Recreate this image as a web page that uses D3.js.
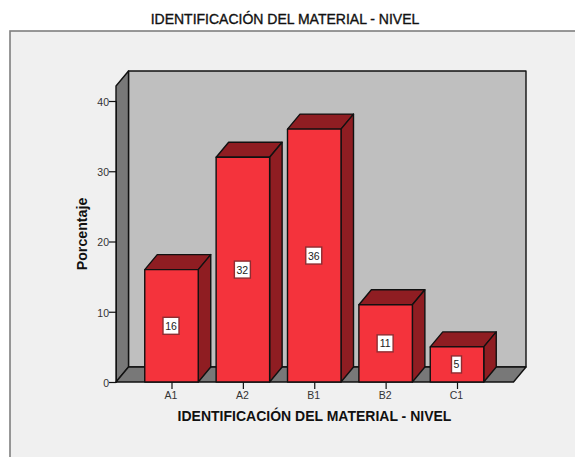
<!DOCTYPE html>
<html><head><meta charset="utf-8">
<script src="https://cdn.jsdelivr.net/npm/d3@7"></script>
<style>
html,body{margin:0;padding:0;background:#fff;overflow:hidden}
svg{display:block}
text{font-family:"Liberation Sans",Arial,sans-serif}
</style></head><body>
<svg id="c" width="575" height="457"></svg>
<script>
const categories=["A1","A2","B1","B2","C1"];
const values=[16,32,36,11,5];
const yTicks=[0,10,20,30,40];
const titleText="IDENTIFICACIÓN DEL MATERIAL - NIVEL";
const xLabel="IDENTIFICACIÓN DEL MATERIAL - NIVEL";
const yLabel="Porcentaje";

const svg=d3.select("#c");
const W=575,H=457;
const dx=12.5,dy=15;
const x=d3.scalePoint().domain(categories).range([171.5,457]);
const y=d3.scaleLinear().domain([0,40]).range([382,101]);
const plotLeft=116,plotRight=513.5,plotBottom=y(0),plotTop=86;
const barW=53.5;
const dark="#111";

svg.append("rect").attr("x",10).attr("y",31).attr("width",W+10).attr("height",H).attr("fill","#f0f0f0").attr("stroke","#7f7f7f").attr("stroke-width",1.6);
svg.append("text").attr("x",285).attr("y",24).attr("text-anchor","middle").attr("font-size",14).attr("fill","#111").attr("stroke","#111").attr("stroke-width",0.35).text(titleText);

const pg=(pts,fill,sw=1.4)=>svg.append("polygon").attr("points",pts.map(p=>p.join(",")).join(" ")).attr("fill",fill).attr("stroke",dark).attr("stroke-width",sw).attr("stroke-linejoin","round");
// back wall, side wall, floor
pg([[plotLeft+dx,plotTop-dy],[plotRight+dx,plotTop-dy],[plotRight+dx,plotBottom-dy],[plotLeft+dx,plotBottom-dy]],"#bfbfbf");
pg([[plotLeft,plotTop],[plotLeft+dx,plotTop-dy],[plotLeft+dx,plotBottom-dy],[plotLeft,plotBottom]],"#787878");
pg([[plotLeft,plotBottom],[plotLeft+dx,plotBottom-dy],[plotRight+dx,plotBottom-dy],[plotRight,plotBottom]],"#787878");

// axes
const ya=svg.append("g").attr("transform",`translate(${plotLeft},0)`).call(d3.axisLeft(y).tickValues(yTicks).tickSize(7).tickPadding(0).tickFormat(d3.format("d")));
ya.select(".domain").attr("stroke",dark);
ya.selectAll("line").attr("stroke",dark).attr("stroke-width",1.2);
ya.selectAll("text").attr("font-size",10.5).attr("fill","#333").attr("font-family","Liberation Sans").attr("dy","0.42em");
const xa=svg.append("g").attr("transform",`translate(0,${plotBottom})`).call(d3.axisBottom(x).tickSize(7).tickPadding(3));
xa.select(".domain").remove();
xa.selectAll("line").attr("stroke",dark).attr("stroke-width",1.2);
xa.selectAll("text").attr("font-size",10.5).attr("fill","#333").attr("font-family","Liberation Sans").attr("dx",-1);

// bars
categories.forEach((c,i)=>{
  const x0=x(c)-barW/2,x1=x(c)+barW/2,yt=y(values[i]);
  pg([[x0,yt],[x0+dx,yt-dy],[x1+dx,yt-dy],[x1,yt]],"#8f1d22");
  pg([[x1,yt],[x1+dx,yt-dy],[x1+dx,plotBottom-dy],[x1,plotBottom]],"#8f1d22");
  pg([[x0,yt],[x1,yt],[x1,plotBottom],[x0,plotBottom]],"#f4333c");
  const ym=y(values[i]/2);
  const w=String(values[i]).length>1?16:10;
  svg.append("rect").attr("x",x(c)-w/2-0.5).attr("y",ym-8.5).attr("width",w).attr("height",17).attr("fill","#fff").attr("stroke","#8f2d32").attr("stroke-width",1.4);
  svg.append("text").attr("x",x(c)-0.5).attr("y",ym+4).attr("text-anchor","middle").attr("font-size",10.5).attr("fill","#222").text(values[i]);
});

svg.append("text").attr("x",314.5).attr("y",421).attr("text-anchor","middle").attr("font-size",14).attr("font-weight","bold").attr("fill","#111").text(xLabel);
svg.append("text").attr("transform","translate(87,234) rotate(-90)").attr("text-anchor","middle").attr("font-size",14.2).attr("font-weight","bold").attr("fill","#111").text(yLabel);
</script>
</body></html>
